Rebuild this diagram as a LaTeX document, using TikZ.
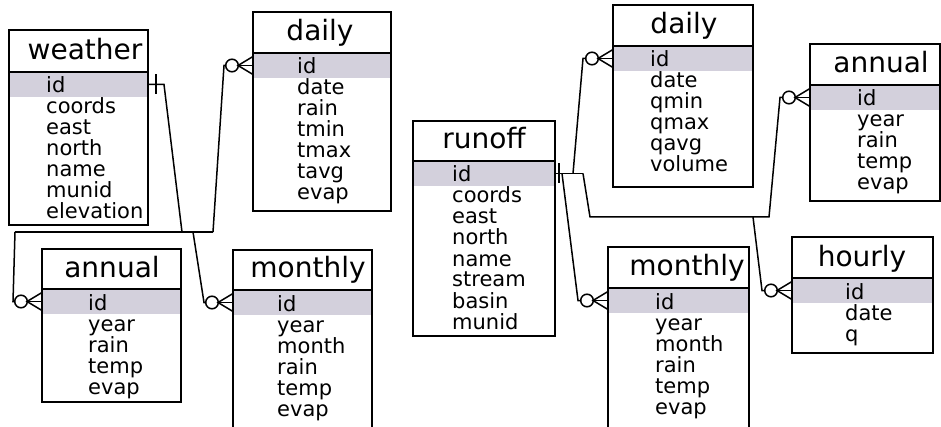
\documentclass[tikz,border=0pt]{standalone}
\usepackage{fontspec}
\setmainfont{DejaVu Sans}
\definecolor{idshade}{RGB}{211,208,220}
\tikzset{
  tbox/.style={draw=black, line width=1.7pt},
  conn/.style={draw=black, line width=1.5pt},
  ttl/.style={anchor=base, inner sep=0pt, font=\fontsize{28}{28}\selectfont},
  fld/.style={anchor=base west, inner sep=0pt, font=\fontsize{21}{21}\selectfont},
}
% #1 name, #2 title, #3 left x, #4 right x, #5 top, #6 header bottom, #7 bottom, #8 title centre x
\newcommand\ertable[8]{%
  \node[fill=idshade, inner sep=0pt, outer sep=0pt, minimum width={(#4-#3)*1pt},
        minimum height=25pt, anchor=north west] (#1id) at (#3,#6) {};
  \node[tbox, inner sep=0pt, outer sep=0pt, minimum width={(#4-#3)*1pt},
        minimum height={(#7-#5)*1pt}, anchor=north west] (#1) at (#3,#5) {};
  \draw[tbox] (#3,#6) -- (#4,#6);
  \node[ttl] (#1title) at (#8,#6-12) {#2};
}
% #1 name, #2 field x, #3 first baseline, #4 list
\newcommand\erfields[4]{%
  \foreach \f [count=\i from 0] in {#4} {
    \node[fld] (#1f\i) at (#2,#3+21*\i) {\f};
  }
}
\newcommand\crowfoot[1]{%
  \draw[conn] ([yshift=9pt]#1.west) -- ([xshift=-15pt]#1.west) -- ([yshift=-9pt]#1.west);
  \draw[conn] ([xshift=-15pt]#1.west) -- (#1.west);
  \draw[conn] ([xshift=-21pt]#1.west) circle[radius=6.3pt];
}
\newcommand\onebar[2]{%
  \draw[conn] ([xshift=#2pt,yshift=10pt]#1.east) -- ([xshift=#2pt,yshift=-10pt]#1.east);
}
\begin{document}
\begin{tikzpicture}[x=1pt,y=-1pt]
\useasboundingbox (0,0) rectangle (941,427);
\clip (0,0) rectangle (941,427);

% left group
\ertable{wea}{weather}{9}{148}{30}{72}{225}{85}
\erfields{wea}{46}{93}{id,coords,east,north,name,munid,elevation}
\ertable{dL}{daily}{253}{391}{12}{53}{211}{320}
\erfields{dL}{297}{74}{id,date,rain,tmin,tmax,tavg,evap}
\ertable{aL}{annual}{42}{181}{249}{289}{402}{112}
\erfields{aL}{88}{310}{id,year,rain,temp,evap}
\ertable{mL}{monthly}{233}{372}{250}{290}{435}{308}
\erfields{mL}{277}{311}{id,year,month,rain,temp,evap}

% right group
\ertable{ro}{runoff}{413}{555}{121}{161}{336}{484}
\erfields{ro}{452}{182}{id,coords,east,north,name,stream,basin,munid}
\ertable{dR}{daily}{613}{753}{5}{46}{187}{684}
\erfields{dR}{650}{67}{id,date,qmin,qmax,qavg,volume}
\ertable{aR}{annual}{810}{940}{44}{85}{201}{881}
\erfields{aR}{857}{106}{id,year,rain,temp,evap}
\ertable{mR}{monthly}{608}{749}{247}{288}{435}{687}
\erfields{mR}{655}{309}{id,year,month,rain,temp,evap}
\ertable{hr}{hourly}{792}{933}{237}{278}{353}{862}
\erfields{hr}{845}{299}{id,date,q}

% left connectors
\coordinate (J1) at (182,232);
\coordinate (J2) at (193,232);
\coordinate (hL) at (15,232);
\coordinate (hR) at (213,232);
\onebar{weaid}{8}
\draw[conn] (weaid.east) -- ++(16,0) -- (J1);
\draw[conn] (hL) -- (hR);
\draw[conn] (hR) -- ([xshift=-29pt]dLid.west) -- ([xshift=-27pt]dLid.west);
\draw[conn] (hL) -- ([xshift=-29pt]aLid.west) -- ([xshift=-27pt]aLid.west);
\draw[conn] (J2) -- ([xshift=-29pt]mLid.west) -- ([xshift=-27pt]mLid.west);
\crowfoot{dLid}
\crowfoot{aLid}
\crowfoot{mLid}

% right connectors
\coordinate (r1) at (590,217);
\coordinate (r2) at (769,217);
\coordinate (r3) at (753,217);
\onebar{roid}{4}
\draw[conn] (roid.east) -- ([xshift=28pt]roid.east);
\draw[conn] ([xshift=18pt]roid.east) -- ([xshift=-30pt]dRid.west) -- ([xshift=-27pt]dRid.west);
\draw[conn] ([xshift=28pt]roid.east) -- (r1) -- (r2) -- ([xshift=-30pt]aRid.west) -- ([xshift=-27pt]aRid.west);
\draw[conn] (r3) -- ([xshift=-30pt]hrid.west) -- ([xshift=-27pt]hrid.west);
\draw[conn] ([xshift=7pt]roid.east) -- ([xshift=-30pt]mRid.west) -- ([xshift=-27pt]mRid.west);
\crowfoot{dRid}
\crowfoot{aRid}
\crowfoot{hrid}
\crowfoot{mRid}
\end{tikzpicture}
\end{document}
